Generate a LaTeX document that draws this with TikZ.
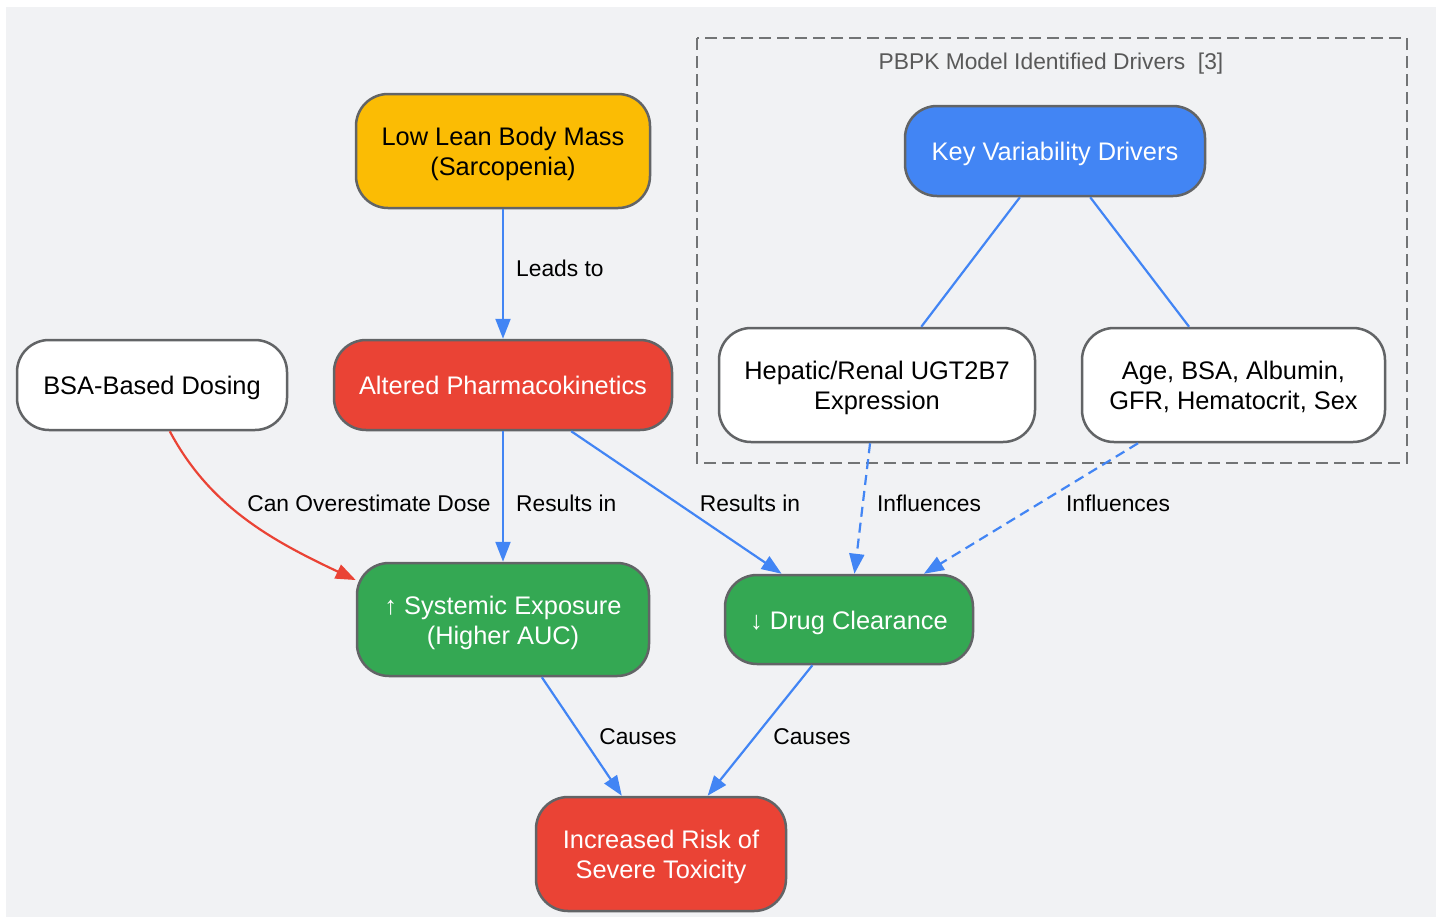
\documentclass[tikz,border=0pt]{standalone}
\usepackage{fontspec}
\setmainfont{Liberation Sans}
\usetikzlibrary{arrows.meta}
\definecolor{bggray}{HTML}{F1F2F4}
\definecolor{gyellow}{HTML}{FBBC04}
\definecolor{gred}{HTML}{EA4335}
\definecolor{ggreen}{HTML}{34A853}
\definecolor{gblue}{HTML}{4285F4}
\definecolor{rimgray}{HTML}{626466}
\newcommand\boxstrut{\rule[-5.5pt]{0pt}{30pt}}

\begin{document}
\begin{tikzpicture}[x=1pt, y=-1pt,
  box/.style={draw=rimgray, line width=2.5pt, rounded corners=32pt, align=center,
    inner sep=0pt, font=\fontsize{25.4}{30}\selectfont},
  lbl/.style={font=\fontsize{22.8}{27}\selectfont, inner sep=0pt},
  link/.style={color=gblue, line width=2.2pt, -{Triangle[length=20pt,width=15pt]}},
  dlink/.style={link, dash pattern=on 10pt off 6pt},
  tie/.style={color=gblue, line width=2.2pt}]
\useasboundingbox (0,0) rectangle (1443,919);
\fill[bggray] (6,7) rectangle (1436,917);

\draw[rimgray!90, line width=2.5pt, dash pattern=on 12pt off 6pt] (697,38) rectangle (1407,463);
\node[lbl, text=black!65] (pbpk) at (1051,64) {PBPK Model Identified Drivers\ \ [3]};

\node[box, fill=gyellow, minimum width=294pt, minimum height=114pt] (lbm) at (503,151) {\boxstrut Low Lean Body Mass\\(Sarcopenia)\boxstrut};
\node[box, fill=white, minimum width=270pt, minimum height=90pt] (bsa) at (152,385) {\boxstrut BSA-Based Dosing\boxstrut};
\node[box, fill=gred, text=white, minimum width=338pt, minimum height=90pt] (pk) at (503,385) {\boxstrut Altered Pharmacokinetics\boxstrut};
\node[box, fill=gblue, text=white, minimum width=300pt, minimum height=90pt] (kvd) at (1055,151) {\boxstrut Key Variability Drivers\boxstrut};
\node[box, fill=white, minimum width=316pt, minimum height=114pt] (ugt) at (877,385) {\boxstrut Hepatic/Renal UGT2B7\\Expression\boxstrut};
\node[box, fill=white, minimum width=303pt, minimum height=114pt] (cov) at (1233.5,385) {\boxstrut Age, BSA, Albumin,\\GFR, Hematocrit, Sex\boxstrut};
\node[box, fill=ggreen, text=white, minimum width=292pt, minimum height=113pt] (auc) at (503,619.5) {\boxstrut ↑ Systemic Exposure\\(Higher AUC)\boxstrut};
\node[box, fill=ggreen, text=white, minimum width=248pt, minimum height=89pt] (clr) at (849,619.5) {\boxstrut ↓ Drug Clearance\boxstrut};
\node[box, fill=gred, text=white, minimum width=250pt, minimum height=114pt] (tox) at (661,854) {\boxstrut Increased Risk of\\Severe Toxicity\boxstrut};

\draw[link] (lbm) -- (pk);
\draw[link] (pk) -- (auc);
\draw[link] (pk) -- (clr);
\draw[link, color=gred] (bsa.-69) .. controls +(40,75) and +(-85,-40) .. (auc.165);
\draw[tie] (kvd) -- (ugt);
\draw[tie] (kvd) -- (cov);
\draw[dlink] (ugt) -- (clr);
\draw[dlink] (cov) -- (clr);
\draw[link] (auc) -- (tox);
\draw[link] (clr) -- (tox);

\node[lbl, anchor=west] (leads) at (516,268) {Leads to};
\node[lbl, anchor=west] (res1) at (516,503) {Results in};
\node[lbl] (res2) at (750,503) {Results in};
\node[lbl] (over) at (369,503) {Can Overestimate Dose};
\node[lbl] (inf1) at (929,503) {Influences};
\node[lbl] (inf2) at (1118,503) {Influences};
\node[lbl] (cau1) at (638,737) {Causes};
\node[lbl] (cau2) at (812,737) {Causes};
\end{tikzpicture}
\end{document}
